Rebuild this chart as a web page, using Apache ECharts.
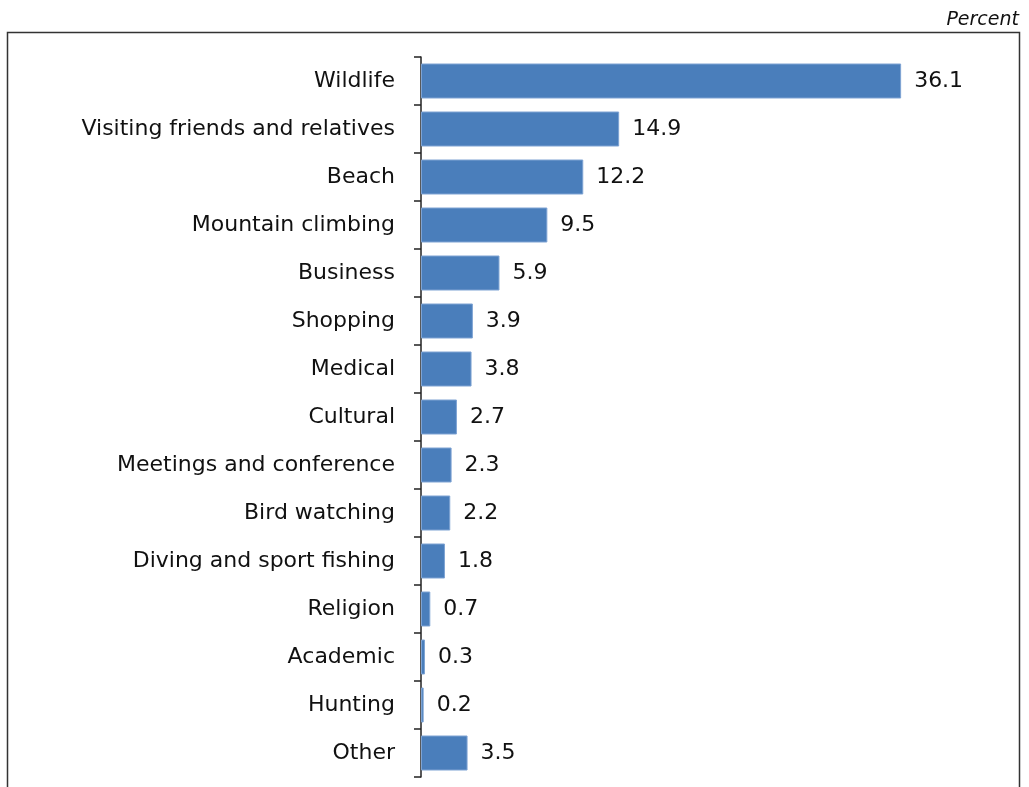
<!DOCTYPE html>
<html>
<head>
<meta charset="utf-8">
<script src="https://cdn.jsdelivr.net/npm/echarts@6/dist/echarts.min.js"></script>
<style>
html,body{margin:0;padding:0;background:#fff;}
#chart{width:1029px;height:787px;}
</style>
</head>
<body>
<div id="chart"></div>
<script>
const categories = ["Wildlife","Visiting friends and relatives","Beach","Mountain climbing","Business","Shopping","Medical","Cultural","Meetings and conference","Bird watching","Diving and sport fishing","Religion","Academic","Hunting","Other"];
const values = [36.1,14.9,12.2,9.5,5.9,3.9,3.8,2.7,2.3,2.2,1.8,0.7,0.3,0.2,3.5];
const unitLabel = "Percent";

const FONT = "DejaVu Sans";
const chart = echarts.init(document.getElementById('chart'), null, {renderer:'canvas'});
chart.setOption({
  animation:false,
  backgroundColor:'#fff',
  grid:{left:421, right:76, top:57, bottom:10, containLabel:false},
  xAxis:{type:'value', min:0, max:40, show:false},
  yAxis:{
    type:'category', data:categories, inverse:true,
    axisLine:{show:true, lineStyle:{color:'#222', width:1.5}},
    axisTick:{show:true, length:7, lineStyle:{color:'#222', width:1.5}},
    axisLabel:{color:'#111', fontSize:22, fontFamily:FONT, margin:26, padding:[3,0,0,0]}
  },
  series:[{
    type:'bar', data:values, barWidth:35,
    itemStyle:{color:'#4a7ebb', borderColor:'#7ea3d3', borderWidth:1},
    label:{show:true, position:'right', distance:13, color:'#111', fontSize:22, fontFamily:FONT,
      padding:[3,0,0,0], formatter:p=>p.value.toFixed(1)}
  }],
  graphic:[
    {type:'rect', shape:{x:7.5, y:32.5, width:1012, height:800}, style:{fill:null, stroke:'#333', lineWidth:1.5}, silent:true},
    {type:'text', right:10, top:11, style:{text:unitLabel, font:'italic 19px "'+FONT+'"', fill:'#111', textAlign:'right'}}
  ]
});
</script>
</body>
</html>
